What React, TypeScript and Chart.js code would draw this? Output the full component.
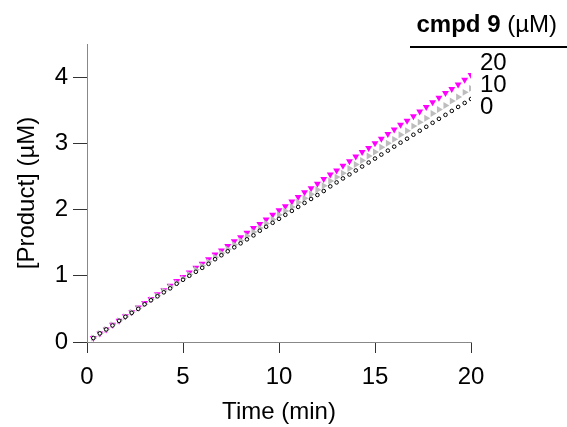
import React, { useEffect, useRef } from "react";
import { Chart, registerables } from "chart.js";

Chart.register(...registerables);

const TIMES = [
  0.33, 0.67, 1.0, 1.33, 1.67, 2.0, 2.33, 2.67, 3.0, 3.33,
  3.67, 4.0, 4.33, 4.67, 5.0, 5.33, 5.67, 6.0, 6.33, 6.67,
  7.0, 7.33, 7.67, 8.0, 8.33, 8.67, 9.0, 9.33, 9.67, 10.0,
  10.33, 10.67, 11.0, 11.33, 11.67, 12.0, 12.33, 12.67, 13.0, 13.33,
  13.67, 14.0, 14.33, 14.67, 15.0, 15.33, 15.67, 16.0, 16.33, 16.67,
  17.0, 17.33, 17.67, 18.0, 18.33, 18.67, 19.0, 19.33, 19.67, 20.0,
];

const CMPD_20 = [
  0.06, 0.13, 0.19, 0.26, 0.32, 0.39, 0.45, 0.52, 0.59, 0.65,
  0.72, 0.78, 0.85, 0.92, 0.98, 1.05, 1.12, 1.18, 1.25, 1.32,
  1.38, 1.45, 1.52, 1.58, 1.65, 1.72, 1.78, 1.85, 1.92, 1.99,
  2.05, 2.12, 2.19, 2.26, 2.32, 2.39, 2.46, 2.53, 2.59, 2.66,
  2.73, 2.8, 2.87, 2.93, 3.0, 3.07, 3.14, 3.21, 3.28, 3.34,
  3.41, 3.48, 3.55, 3.62, 3.69, 3.76, 3.82, 3.89, 3.96, 4.03,
];

const CMPD_10 = [
  0.06, 0.13, 0.19, 0.26, 0.32, 0.38, 0.45, 0.51, 0.57, 0.64,
  0.7, 0.77, 0.83, 0.89, 0.96, 1.02, 1.09, 1.15, 1.21, 1.28,
  1.34, 1.4, 1.47, 1.53, 1.6, 1.66, 1.72, 1.79, 1.85, 1.92,
  1.98, 2.04, 2.11, 2.17, 2.23, 2.3, 2.36, 2.43, 2.49, 2.55,
  2.62, 2.68, 2.74, 2.81, 2.87, 2.94, 3.0, 3.06, 3.13, 3.19,
  3.26, 3.32, 3.38, 3.45, 3.51, 3.57, 3.64, 3.7, 3.77, 3.83,
];

const CMPD_0 = [
  0.06, 0.13, 0.19, 0.25, 0.32, 0.38, 0.44, 0.5, 0.57, 0.63,
  0.69, 0.75, 0.81, 0.88, 0.94, 1.0, 1.06, 1.12, 1.18, 1.25,
  1.31, 1.37, 1.43, 1.49, 1.55, 1.61, 1.68, 1.74, 1.8, 1.86,
  1.92, 1.98, 2.04, 2.1, 2.16, 2.22, 2.28, 2.35, 2.41, 2.47,
  2.53, 2.59, 2.65, 2.71, 2.77, 2.83, 2.89, 2.95, 3.01, 3.07,
  3.13, 3.19, 3.25, 3.31, 3.37, 3.43, 3.49, 3.55, 3.61, 3.67,
];

const Y_TICKS = [0, 1, 2, 3, 4];
const X_TICKS = [0, 5, 10, 15, 20];
const LEGEND_LABELS = ["20", "10", "0"];

const FONT = "'Liberation Sans', Arial, sans-serif";

const toPoints = (ys: number[]) => ys.map((y, i) => ({ x: TIMES[i], y }));

const legendPlugin = {
  id: "cmpdLegend",
  afterDraw(chart: any) {
    const ctx = chart.ctx;
    ctx.save();
    ctx.fillStyle = "#000";
    ctx.textBaseline = "alphabetic";
    ctx.font = `24px ${FONT}`;
    const rest = " (\u00b5M)";
    const restW = ctx.measureText(rest).width;
    ctx.font = `bold 24px ${FONT}`;
    const bold = "cmpd 9";
    const boldW = ctx.measureText(bold).width;
    const right = 557;
    ctx.textAlign = "left";
    ctx.fillText(bold, right - restW - boldW, 32);
    ctx.font = `24px ${FONT}`;
    ctx.fillText(rest, right - restW, 32);
    ctx.strokeStyle = "#000";
    ctx.lineWidth = 2;
    ctx.beginPath();
    ctx.moveTo(410, 47);
    ctx.lineTo(567, 47);
    ctx.stroke();
    ctx.textBaseline = "middle";
    const ys = [63, 85, 107];
    LEGEND_LABELS.forEach((t, i) => ctx.fillText(t, 480, ys[i]));
    ctx.restore();
  },
};

export default function App() {
  const ref = useRef<HTMLCanvasElement>(null);
  useEffect(() => {
    if (!ref.current) return;
    const chart = new Chart(ref.current, {
      type: "scatter",
      data: {
        datasets: [
          {
            label: "0",
            data: toPoints(CMPD_0),
            pointStyle: "circle",
            pointRadius: 1.8,
            borderWidth: 1,
            borderColor: "#000",
            backgroundColor: "#fff",
          },
          {
            label: "10",
            data: toPoints(CMPD_10),
            pointStyle: "triangle",
            rotation: 90,
            pointRadius: 4,
            borderWidth: 0,
            borderColor: "#bdbdbd",
            backgroundColor: "#bdbdbd",
          },
          {
            label: "20",
            data: toPoints(CMPD_20),
            pointStyle: "triangle",
            rotation: 180,
            pointRadius: 4,
            borderWidth: 0,
            borderColor: "#ff00ff",
            backgroundColor: "#ff00ff",
          },
        ],
      },
      options: {
        responsive: false,
        animation: false,
        layout: { padding: { top: 44, right: 96, left: 0, bottom: 0 } },
        plugins: { legend: { display: false }, tooltip: { enabled: false } },
        scales: {
          x: {
            type: "linear",
            min: 0,
            max: 20,
            afterBuildTicks: (s: any) => {
              s.ticks = X_TICKS.map((v) => ({ value: v }));
            },
            afterFit: (s: any) => {
              s.height = 85;
            },
            grid: {
              drawOnChartArea: false,
              drawTicks: true,
              tickLength: 11,
              color: "#333",
            },
            border: { display: true, color: "#888", width: 1 },
            ticks: {
              color: "#000",
              font: { family: FONT, size: 24 },
              padding: 10,
              maxRotation: 0,
            },
            title: {
              display: true,
              text: "Time (min)",
              color: "#000",
              font: { family: FONT, size: 24 },
              padding: { top: 0, bottom: 0 },
            },
          },
          y: {
            type: "linear",
            min: 0,
            max: 4.5,
            afterBuildTicks: (s: any) => {
              s.ticks = Y_TICKS.map((v) => ({ value: v }));
            },
            afterFit: (s: any) => {
              s.width = 87;
            },
            grid: {
              drawOnChartArea: false,
              drawTicks: true,
              tickLength: 14,
              color: "#333",
            },
            border: { display: true, color: "#888", width: 1 },
            ticks: {
              color: "#000",
              font: { family: FONT, size: 24 },
              padding: 5,
            },
            title: {
              display: true,
              text: "[Product] (\u00b5M)",
              color: "#000",
              font: { family: FONT, size: 24 },
              padding: { top: 13, bottom: 0 },
            },
          },
        },
      },
      plugins: [legendPlugin],
    });
    return () => chart.destroy();
  }, []);
  return (
    <div style={{ position: "fixed", left: 0, top: 0, width: 567, height: 427 }}>
      <canvas ref={ref} width={567} height={427} style={{ width: 567, height: 427 }} />
    </div>
  );
}
